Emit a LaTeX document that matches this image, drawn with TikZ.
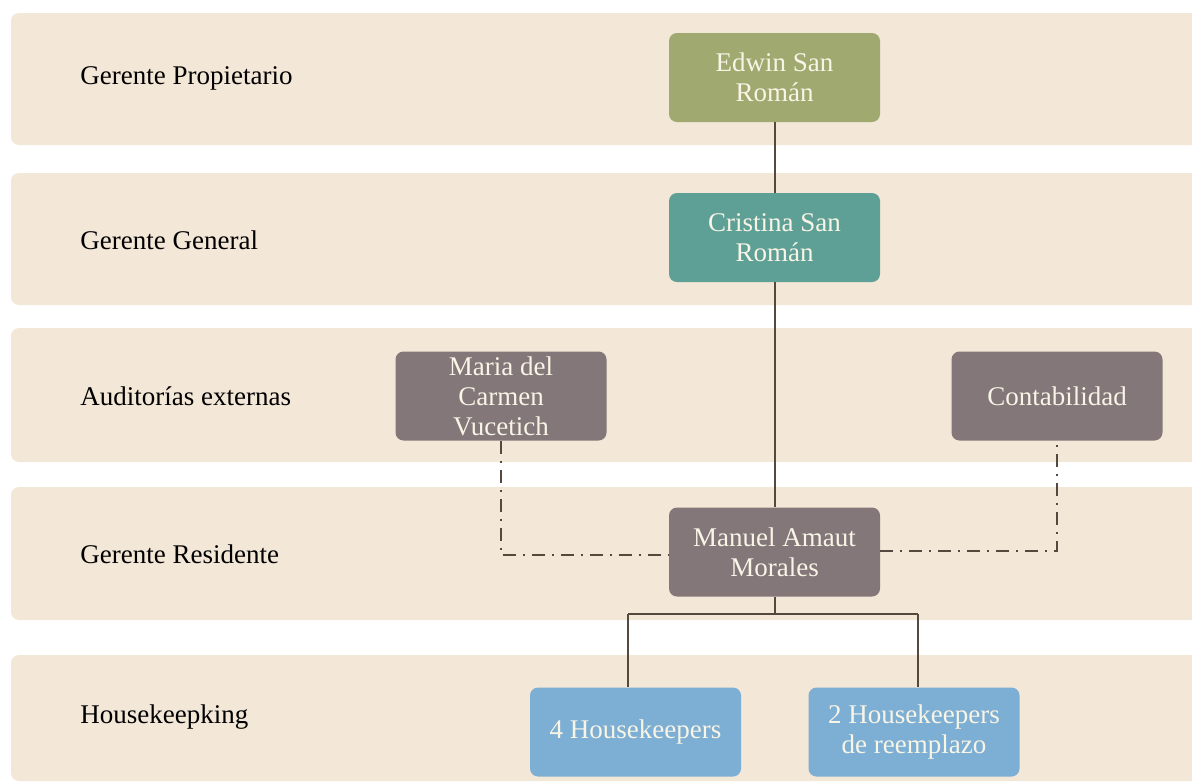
\documentclass[tikz,border=0pt]{standalone}
\usepackage{fontspec}
\setmainfont{Liberation Serif}
\definecolor{bandfill}{HTML}{F3E7D7}
\definecolor{olivebox}{HTML}{A0AA70}
\definecolor{tealbox}{HTML}{5FA096}
\definecolor{greybox}{HTML}{837779}
\definecolor{bluebox}{HTML}{7DAFD4}
\definecolor{linkcol}{HTML}{54483F}
\definecolor{boxtext}{HTML}{F8F4E6}
\begin{document}
\begin{tikzpicture}[x=0.5pt,y=-0.5pt,
  band/.style={fill=bandfill, draw=none, rounded corners=4pt},
  rowlabel/.style={anchor=west, font=\fontsize{13.5}{16}\selectfont, text=black, inner sep=0pt},
  orgbox/.style={draw=none, rounded corners=4pt, minimum width=105.5pt, minimum height=44.5pt,
    align=center, text=boxtext, font=\fontsize{13.5}{15}\selectfont, inner sep=1pt},
  link/.style={draw=linkcol, line width=1pt},
  dotlink/.style={draw=linkcol, line width=1.1pt, dash pattern=on 6.5pt off 3.5pt on 1pt off 3.5pt}
]
\useasboundingbox (0,0) rectangle (1192,783);
\begin{scope}
\clip (0,0) rectangle (1192,783);
% horizontal level bands
\fill[band] (11,13) rectangle (1220,145);
\fill[band] (11,173) rectangle (1220,305);
\fill[band] (11,328) rectangle (1220,462);
\fill[band] (11,487) rectangle (1220,620);
\fill[band] (11,655) rectangle (1220,781);
\end{scope}

% level labels
\node[rowlabel] (l1) at (80,78) {Gerente Propietario};
\node[rowlabel] (l2) at (80,240) {Gerente General};
\node[rowlabel] (l3) at (80,396) {Auditorías externas};
\node[rowlabel] (l4) at (80,554) {Gerente Residente};
\node[rowlabel] (l5) at (80,717) {Housekeepking};

% organisation boxes
\node[orgbox, fill=olivebox] (edwin) at (774.5,77.5) {Edwin San\\Román};
\node[orgbox, fill=tealbox] (cristina) at (774.5,237.5) {Cristina San\\Román};
\node[orgbox, fill=greybox] (maria) at (501,396) {Maria del\\Carmen\\Vucetich};
\node[orgbox, fill=greybox] (conta) at (1057,396) {Contabilidad};
\node[orgbox, fill=greybox] (manuel) at (774.5,552) {Manuel Amaut\\Morales};
\node[orgbox, fill=bluebox] (hk1) at (635.5,732) {4 Housekeepers};
\node[orgbox, fill=bluebox] (hk2) at (914,732) {2 Housekeepers\\de reemplazo};

% reporting lines
\coordinate (bus) at (774.5,614);
\coordinate (busl) at (628,614);
\coordinate (busr) at (918,614);
\draw[link] (edwin.south) -- (cristina.north);
\draw[link] (cristina.south) -- (manuel.north);
\draw[link] (manuel.south) -- (bus);
\draw[link] (busl) -- (busr);
\draw[link] (busl) -- (busl |- hk1.north);
\draw[link] (busr) -- (busr |- hk2.north);

% advisory lines
\coordinate (mcorner) at (maria.south |- 0,555);
\coordinate (ccorner) at (conta.south |- 0,551);
\draw[dotlink] (maria.south) -- (mcorner) -- (manuel.west |- mcorner);
\draw[dotlink] (manuel.east |- ccorner) -- (ccorner) -- (conta.south);
\end{tikzpicture}
\end{document}
